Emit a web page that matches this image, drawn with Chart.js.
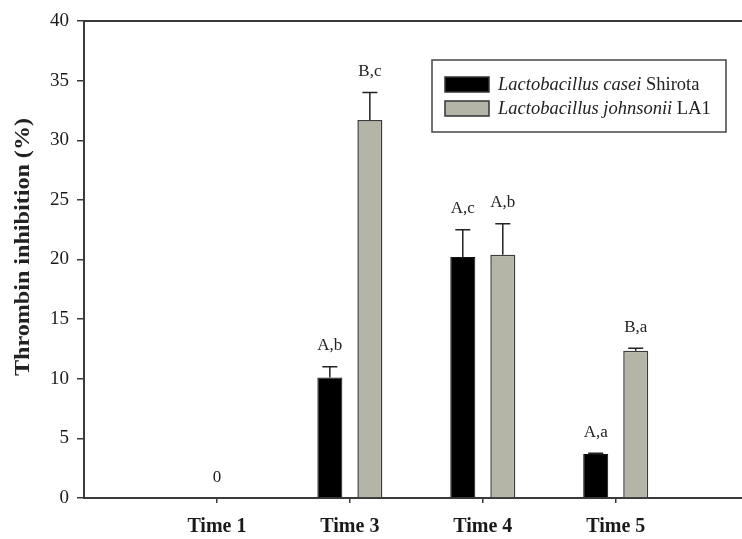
<!DOCTYPE html>
<html>
<head>
<meta charset="utf-8">
<script src="https://cdn.jsdelivr.net/npm/chart.js@4/dist/chart.umd.min.js"></script>
<style>
  html, body { margin: 0; padding: 0; background: #ffffff; overflow: hidden; }
  #wrap { width: 742px; height: 539px; }
</style>
</head>
<body>
<div id="wrap"><canvas id="c" width="742" height="539"></canvas></div>
<script>
// ---- data ----
const categories = ['Time 1', 'Time 3', 'Time 4', 'Time 5'];
const caseiValues = [0, 10.1, 20.2, 3.7];
const caseiErrors = [0, 0.9, 2.3, 0.05];
const johnsoniiValues = [0, 31.7, 20.4, 12.35];
const johnsoniiErrors = [0, 2.3, 2.6, 0.2];
const caseiLabels = ['', 'A,b', 'A,c', 'A,a'];
const johnsoniiLabels = ['', 'B,c', 'A,b', 'B,a'];
const centerLabels = ['0', '', '', ''];
const yTicks = [0, 5, 10, 15, 20, 25, 30, 35, 40];
const seriesNames = [
  ['Lactobacillus', ' casei', ' Shirota'],
  ['Lactobacillus', ' johnsonii', ' LA1']
];
const yTitle = 'Thrombin inhibition (%)';

const SERIF = '"Liberation Serif", "Times New Roman", serif';
const AXIS = '#3a3a3a';
const GREY = '#b4b5a6';

const toPoints = (vals) => vals.map((v, i) => ({ x: i + 1, y: v }));

const extrasPlugin = {
  id: 'extras',
  afterDatasetsDraw(chart) {
    const ctx = chart.ctx;
    const xs = chart.scales.x, ys = chart.scales.y;
    const ca = chart.chartArea;
    ctx.save();
    // top frame line
    ctx.strokeStyle = AXIS;
    ctx.lineWidth = 2;
    ctx.beginPath();
    ctx.moveTo(ca.left - 1, ca.top);
    ctx.lineTo(ca.right, ca.top);
    ctx.stroke();

    // error bars + letters
    const errs = [caseiErrors, johnsoniiErrors];
    const labs = [caseiLabels, johnsoniiLabels];
    const vals = [caseiValues, johnsoniiValues];
    ctx.font = '17px ' + SERIF;
    ctx.textAlign = 'center';
    ctx.textBaseline = 'middle';
    for (let d = 0; d < 2; d++) {
      const meta = chart.getDatasetMeta(d);
      meta.data.forEach((bar, i) => {
        const v = vals[d][i], e = errs[d][i];
        if (v === 0) return;
        const yTop = ys.getPixelForValue(v);
        const yErr = ys.getPixelForValue(v + e);
        ctx.strokeStyle = '#222';
        ctx.lineWidth = 1.5;
        ctx.beginPath();
        ctx.moveTo(bar.x, yTop);
        ctx.lineTo(bar.x, yErr);
        ctx.moveTo(bar.x - 7.5, yErr);
        ctx.lineTo(bar.x + 7.5, yErr);
        ctx.stroke();
        if (labs[d][i]) {
          ctx.fillStyle = '#222';
          ctx.fillText(labs[d][i], bar.x, yErr - 21);
        }
      });
    }
    centerLabels.forEach((t, i) => {
      if (!t) return;
      ctx.fillStyle = '#222';
      ctx.fillText(t, xs.getPixelForValue(i + 1), ys.getPixelForValue(0) - 20);
    });

    // legend
    const lx = 432, ly = 60, lw = 294, lh = 72;
    ctx.fillStyle = '#fff';
    ctx.fillRect(lx, ly, lw, lh);
    ctx.strokeStyle = '#444';
    ctx.lineWidth = 1.5;
    ctx.strokeRect(lx, ly, lw, lh);
    const fills = ['#000000', GREY];
    const rowsY = [84.5, 108.5];
    for (let r = 0; r < 2; r++) {
      ctx.fillStyle = fills[r];
      ctx.fillRect(445, rowsY[r] - 7.5, 44, 15);
      ctx.strokeStyle = '#333';
      ctx.lineWidth = 1.5;
      ctx.strokeRect(445, rowsY[r] - 7.5, 44, 15);
      let x = 498;
      ctx.textAlign = 'left';
      ctx.textBaseline = 'middle';
      ctx.fillStyle = '#222';
      const parts = seriesNames[r];
      const styles = ['italic ', 'italic ', ''];
      parts.forEach((p, k) => {
        ctx.font = styles[k] + '18.5px ' + SERIF;
        ctx.fillText(p, x, rowsY[r] + 1);
        x += ctx.measureText(p).width;
      });
    }

    // y-axis title
    ctx.save();
    ctx.translate(24, 247);
    ctx.rotate(-Math.PI / 2);
    ctx.font = 'bold 21px ' + SERIF;
    const w = ctx.measureText(yTitle).width;
    ctx.scale(258 / w, 1);
    ctx.textAlign = 'center';
    ctx.textBaseline = 'middle';
    ctx.fillStyle = '#222';
    ctx.fillText(yTitle, 0, 0);
    ctx.restore();

    ctx.restore();
  }
};

new Chart(document.getElementById('c'), {
  type: 'bar',
  data: {
    datasets: [
      {
        label: seriesNames[0].join(''),
        data: toPoints(caseiValues),
        backgroundColor: '#000000',
        borderColor: '#111111',
        borderWidth: 1
      },
      {
        label: seriesNames[1].join(''),
        data: toPoints(johnsoniiValues),
        backgroundColor: GREY,
        borderColor: '#3c3c3c',
        borderWidth: 1.5
      }
    ]
  },
  options: {
    responsive: false,
    animation: false,
    devicePixelRatio: 1,
    categoryPercentage: 0.602,
    barPercentage: 0.625,
    layout: { padding: { top: 21, right: 0, left: 0, bottom: 0 } },
    plugins: { legend: { display: false }, tooltip: { enabled: false } },
    scales: {
      x: {
        type: 'linear',
        min: 0,
        max: 4.95,
        offset: false,
        afterBuildTicks: (s) => { s.ticks = categories.map((c, i) => ({ value: i + 1 })); },
        afterFit: (s) => { s.height = 41; },
        grid: { display: true, offset: false, drawOnChartArea: false, drawTicks: true, tickLength: 5, color: AXIS, lineWidth: 1.5 },
        border: { display: true, color: AXIS, width: 2 },
        ticks: {
          autoSkip: false,
          maxRotation: 0,
          padding: 12,
          color: '#1a1a1a',
          font: { family: SERIF, size: 20, weight: 'bold' },
          callback: (v) => categories[Math.round(v) - 1]
        }
      },
      y: {
        min: 0,
        max: 40,
        afterBuildTicks: (s) => { s.ticks = yTicks.map(v => ({ value: v })); },
        afterFit: (s) => { s.width = 84; },
        grid: { display: true, drawOnChartArea: false, drawTicks: true, tickLength: 7, color: AXIS, lineWidth: 1.5 },
        border: { display: true, color: AXIS, width: 2 },
        ticks: {
          padding: 8,
          color: '#1a1a1a',
          font: { family: SERIF, size: 19 }
        }
      }
    }
  },
  plugins: [extrasPlugin]
});
</script>
</body>
</html>
